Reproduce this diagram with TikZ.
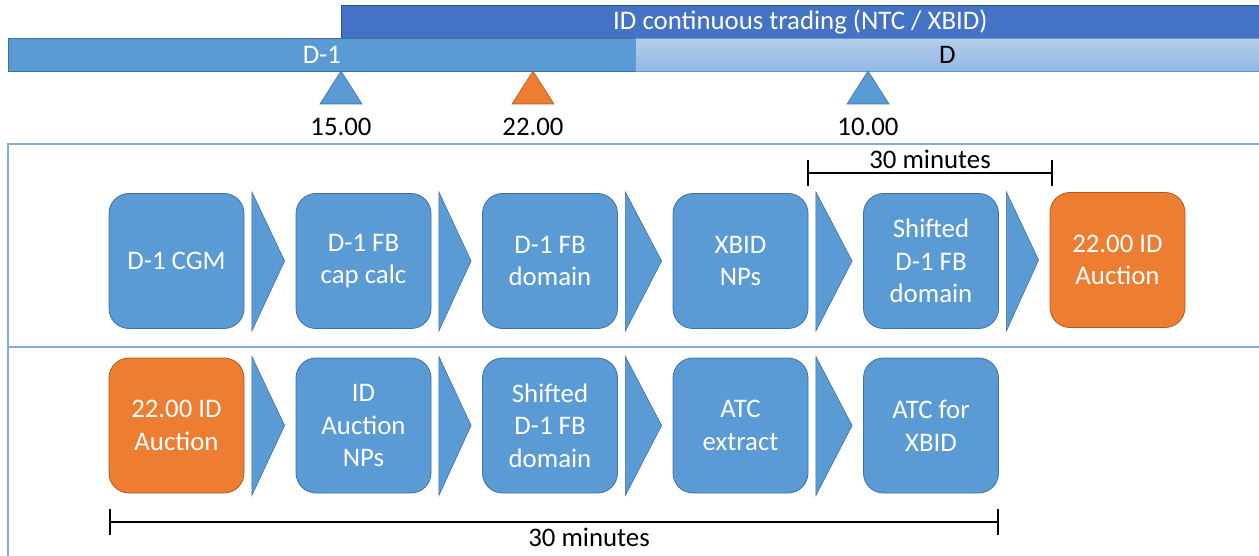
\documentclass[tikz,border=0pt]{standalone}
\usepackage{fontspec}
\setmainfont{Carlito}
\usetikzlibrary{calc}
\definecolor{bblue}{HTML}{5B9BD5}
\definecolor{bborder}{HTML}{41719C}
\definecolor{dblue}{HTML}{4472C4}
\definecolor{dborder}{HTML}{2F528F}
\definecolor{orng}{HTML}{ED7D31}
\definecolor{oborder}{HTML}{AE5A21}
\definecolor{frameblue}{HTML}{7FAEDE}
\definecolor{dtop}{HTML}{B5CEEB}
\definecolor{dbot}{HTML}{93B7E2}
\begin{document}
\begin{tikzpicture}[x=1pt,y=-1pt,
  txt/.style={font=\fontsize{26.8}{32.7}\selectfont},
  box/.style={txt, rounded corners=20pt, minimum width=135pt, minimum height=135pt,
    inner sep=0pt, align=center, text=white, fill=bblue, draw=bborder, line width=0.8pt},
  obox/.style={box, fill=orng, draw=oborder},
  chev/.style={fill=bblue, draw=bborder, line width=0.6pt, line join=miter},
  tri/.style={line width=0.6pt},
  bracket/.style={line width=2pt, black},
  barnode/.style={txt, anchor=north west, minimum height=33pt, inner sep=0pt, line width=0.8pt}
]
\useasboundingbox (0,0) rectangle (1259,556);

% frame
\draw[frameblue, line width=1.6pt] (1265,144) -- (8,144) -- (8,560);
\coordinate (divL) at (8,347);
\coordinate (divR) at (1265,347);
\draw[frameblue, line width=1.6pt] (divL) -- (divR);

% timeline bars
\node[barnode, minimum width=918pt, fill=dblue, draw=dborder, text=white] (idbar) at (341,5) {ID continuous trading (NTC / XBID)};
\node[barnode, minimum width=627pt, fill=bblue, draw=bborder, text=white] (dm1) at (8,38) {D-1};
\node[barnode, minimum width=624pt, top color=dtop, bottom color=dbot, draw=bblue, text=black] (dday) at (635,38) {D};

% markers
\coordinate (t1) at (341,71);
\coordinate (t2) at (533,71);
\coordinate (t3) at (868,71);
\filldraw[tri, fill=bblue, draw=bborder] (t1) -- ++(21,33) -- ++(-42,0) -- cycle;
\filldraw[tri, fill=orng, draw=oborder] (t2) -- ++(21,33) -- ++(-42,0) -- cycle;
\filldraw[tri, fill=bblue, draw=bborder] (t3) -- ++(21,33) -- ++(-42,0) -- cycle;
\node[txt] (l1) at (341,126.5) {15.00};
\node[txt] (l2) at (533,126.5) {22.00};
\node[txt] (l3) at (868,126.5) {10.00};

% row 1
\node[box]  (a1) at (176.5,261) {D-1 CGM};
\node[box]  (a2) at (363.5,261) {D-1 FB\\cap calc};
\node[box]  (a3) at (550,261)   {D-1 FB\\domain};
\node[box]  (a4) at (740.5,261) {XBID\\NPs};
\node[box]  (a5) at (931,261)   {Shifted\\D-1 FB\\domain};
\node[obox] (a6) at (1117.5,260){22.00 ID\\Auction};

% row 2
\node[obox] (b1) at (176.5,425.5) {22.00 ID\\Auction};
\node[box]  (b2) at (363.5,425.5) {ID\\Auction\\NPs};
\node[box]  (b3) at (550,425.5)   {Shifted\\D-1 FB\\domain};
\node[box]  (b4) at (740.5,425.5) {ATC\\extract};
\node[box]  (b5) at (931,425.5)   {ATC for\\XBID};

% chevrons
\foreach \p/\q in {a1/a2,a2/a3,a3/a4,a4/a5,a5/a6,b1/b2,b2/b3,b3/b4,b4/b5}{
  \filldraw[chev] ($(\p.east)+(7.5,-69)$) -- ($(\p.east)+(7.5,70)$) -- ($(\q.west)+(-11,0)$) -- cycle;
}

% brackets
\coordinate (ts) at (808,173);
\coordinate (te) at (1052,173);
\draw[bracket] (ts) -- (te);
\draw[bracket] ($(ts)+(0,-13)$) -- ($(ts)+(0,13)$);
\draw[bracket] ($(te)+(0,-13)$) -- ($(te)+(0,13)$);
\node[txt] (m1) at (930,159.5) {30 minutes};

\coordinate (bs) at (110,522);
\coordinate (be) at (998,522);
\draw[bracket] (bs) -- (be);
\draw[bracket] ($(bs)+(0,-13)$) -- ($(bs)+(0,13)$);
\draw[bracket] ($(be)+(0,-13)$) -- ($(be)+(0,13)$);
\node[txt] (m2) at (589,537.5) {30 minutes};
\end{tikzpicture}
\end{document}
